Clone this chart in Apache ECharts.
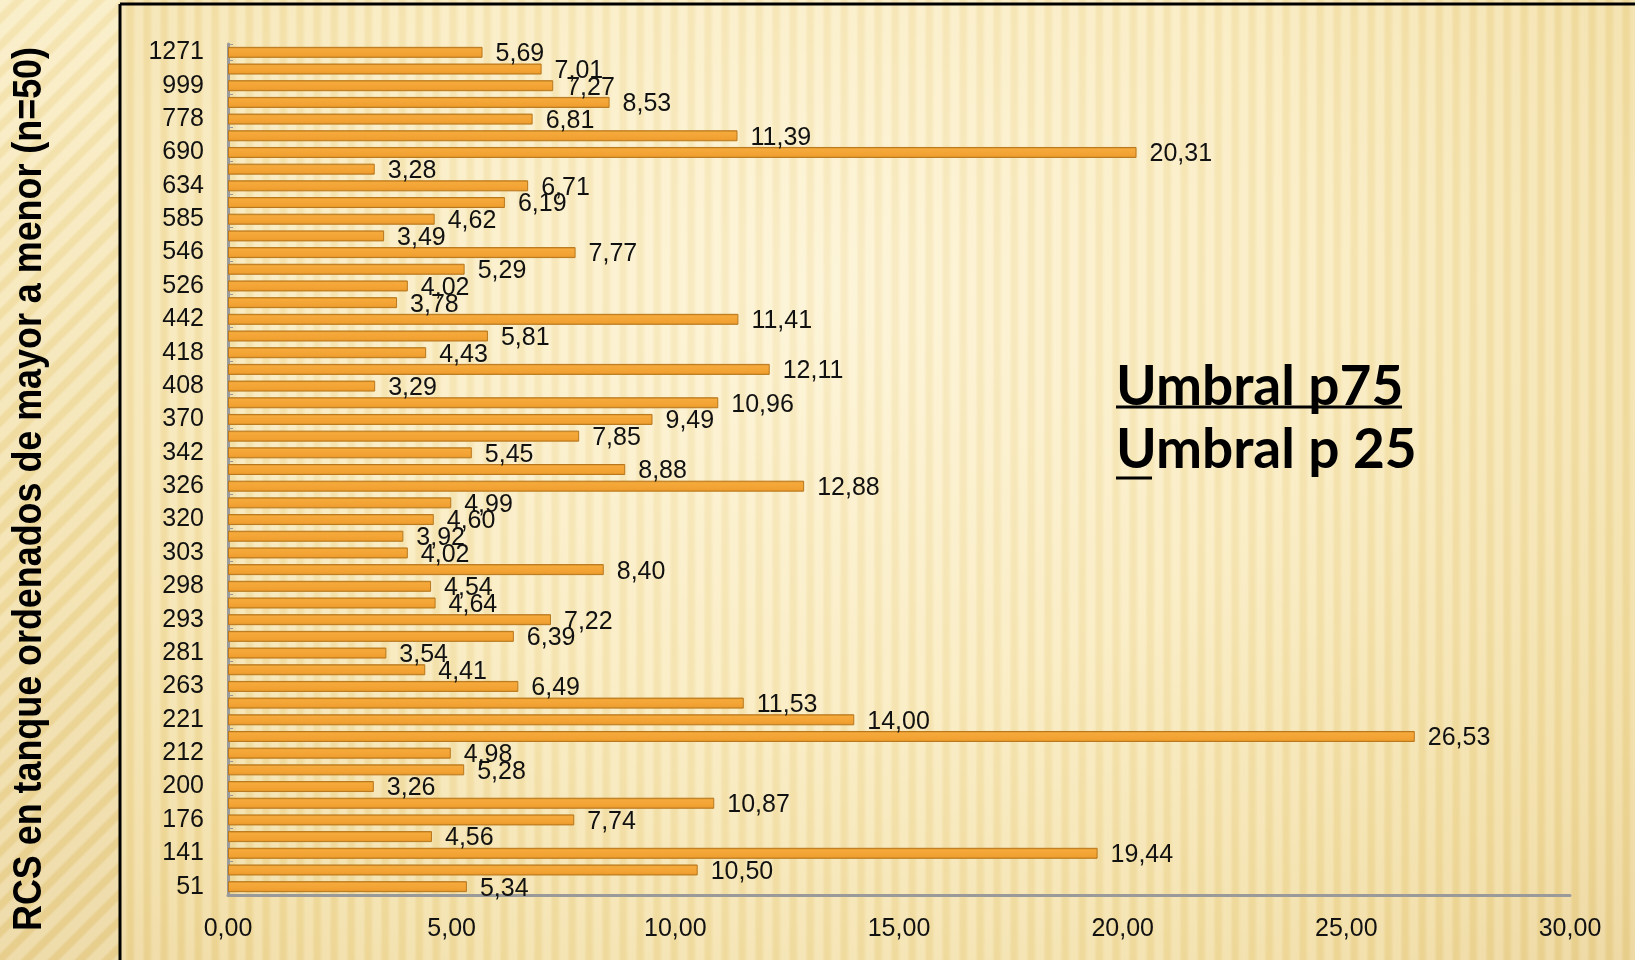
<!DOCTYPE html>
<html>
<head>
<meta charset="utf-8">
<script src="https://cdn.jsdelivr.net/npm/echarts@6/dist/echarts.min.js"></script>
<style>
  html, body { margin: 0; padding: 0; }
  body {
    width: 1635px; height: 960px; overflow: hidden; position: relative;
    background:
      repeating-linear-gradient(90deg, rgba(255,255,255,0.18) 0px, rgba(255,255,255,0.18) 6px, rgba(205,165,70,0.09) 9px, rgba(205,165,70,0.09) 13px, rgba(255,255,255,0.18) 17px),
      radial-gradient(ellipse at 50% 30%, #fdf3d2 0%, #f9eabb 45%, #f1dc9f 80%, #ead191 100%);
  }
  #side {
    position: absolute; left: 0; top: 0; width: 120px; height: 960px;
    background:
      repeating-linear-gradient(135deg, rgba(255,255,255,0.22) 0px, rgba(255,255,255,0.22) 8px, rgba(200,160,60,0.08) 11px, rgba(200,160,60,0.08) 16px, rgba(255,255,255,0.22) 19px),
      linear-gradient(180deg, #f9ebbd 0%, #f1dda2 60%, #ead294 100%);
  }
  #chart { position: absolute; left: 0; top: 0; width: 1635px; height: 960px; }
</style>
</head>
<body>
<div id="side"></div>
<div id="chart"></div>
<script>
// tanques, de abajo hacia arriba (solo se rotula uno de cada dos)
var tanques = ['51','98','141','160','176','189','200','205','212','217',
  '221','240','263','272','281','287','293','295','298','300',
  '303','312','320','323','326','334','342','356','370','389',
  '408','413','418','430','442','484','526','536','546','565',
  '585','610','634','662','690','734','778','888','999','1135','1271'];
// RCS
var rcs = [5.34, 10.50, 19.44, 4.56, 7.74, 10.87, 3.26, 5.28, 4.98, 26.53,
  14.00, 11.53, 6.49, 4.41, 3.54, 6.39, 7.22, 4.64, 4.54, 8.40,
  4.02, 3.92, 4.60, 4.99, 12.88, 8.88, 5.45, 7.85, 9.49, 10.96,
  3.29, 12.11, 4.43, 5.81, 11.41, 3.78, 4.02, 5.29, 7.77, 3.49,
  4.62, 6.19, 6.71, 3.28, 20.31, 11.39, 6.81, 8.53, 7.27, 7.01, 5.69];
var ejeMin = 0, ejeMax = 30, ejePaso = 5;
var titulo = 'RCS en tanque ordenados de mayor a menor (n=50)';
var umbral1 = 'Umbral p75', umbral2 = 'Umbral p 25';

function coma(v){ return v.toFixed(2).replace('.', ','); }

// el titulo original es condensado: se mide y se comprime a lo largo
var fuenteTitulo = 'bold 41px "Liberation Sans", Arial, sans-serif';
var ctx = document.createElement('canvas').getContext('2d');
ctx.font = fuenteTitulo;
var escalaTitulo = 884 / ctx.measureText(titulo).width;

var chart = echarts.init(document.getElementById('chart'), null, {renderer: 'canvas'});
var option = {
  backgroundColor: 'transparent',
  animation: false,
  grid: { left: 228, right: 65, top: 44, bottom: 65 },
  xAxis: {
    type: 'value', min: ejeMin, max: ejeMax, interval: ejePaso,
    axisLine: { show: true, lineStyle: { color: '#9a9a9a', width: 3 } },
    axisTick: { show: false },
    splitLine: { show: false },
    axisLabel: {
      formatter: coma, color: '#111', fontSize: 25, margin: 22,
      fontFamily: 'Liberation Sans, Arial, sans-serif'
    }
  },
  yAxis: {
    type: 'category', data: tanques,
    axisLine: { show: true, lineStyle: { color: '#9a9a9a', width: 3 } },
    axisTick: { show: true, inside: true, length: 5, lineStyle: { color: '#9a9a9a' } },
    axisLabel: {
      interval: 1, color: '#111', fontSize: 25, margin: 24,
      fontFamily: 'Liberation Sans, Arial, sans-serif'
    }
  },
  series: [{
    type: 'bar',
    data: rcs,
    barWidth: 11,
    itemStyle: {
      color: new echarts.graphic.LinearGradient(0, 0, 0, 1, [
        { offset: 0, color: '#c9831f' },
        { offset: 0.2, color: '#f6aa3c' },
        { offset: 0.8, color: '#f0a030' },
        { offset: 1, color: '#d58a22' }
      ]),
      borderColor: '#b8771c',
      borderWidth: 1
    },
    label: {
      show: true, position: 'right', distance: 13,
      formatter: function (p) { return coma(p.value); },
      color: '#111', fontSize: 25,
      fontFamily: 'Liberation Sans, Arial, sans-serif',
      offset: [0, 2]
    }
  }],
  graphic: [
    { type: 'line', shape: { x1: 120, y1: 4, x2: 1635, y2: 4 }, style: { stroke: '#000', lineWidth: 3 } },
    { type: 'line', shape: { x1: 120, y1: 4, x2: 120, y2: 960 }, style: { stroke: '#000', lineWidth: 3 } },
    {
      type: 'text', x: 30, y: 489, rotation: Math.PI / 2, scaleX: escalaTitulo,
      style: {
        text: titulo, fill: '#000', fontSize: 41, fontWeight: 'bold',
        fontFamily: '"Liberation Sans", Arial, sans-serif',
        align: 'center', verticalAlign: 'middle'
      }
    },
    {
      type: 'text', x: 1116, y: 387,
      style: { text: umbral1, fill: '#000', fontSize: 55, fontWeight: 'bold', fontFamily: 'Lato, sans-serif', align: 'left', verticalAlign: 'middle' }
    },
    {
      type: 'text', x: 1116, y: 450,
      style: { text: umbral2, fill: '#000', fontSize: 55, fontWeight: 'bold', fontFamily: 'Lato, sans-serif', align: 'left', verticalAlign: 'middle' }
    },
    { type: 'line', shape: { x1: 1116, y1: 407, x2: 1402, y2: 407 }, style: { stroke: '#000', lineWidth: 3 } },
    { type: 'line', shape: { x1: 1116, y1: 478, x2: 1152, y2: 478 }, style: { stroke: '#000', lineWidth: 3 } }
  ]
};
chart.setOption(option);
</script>
</body>
</html>
